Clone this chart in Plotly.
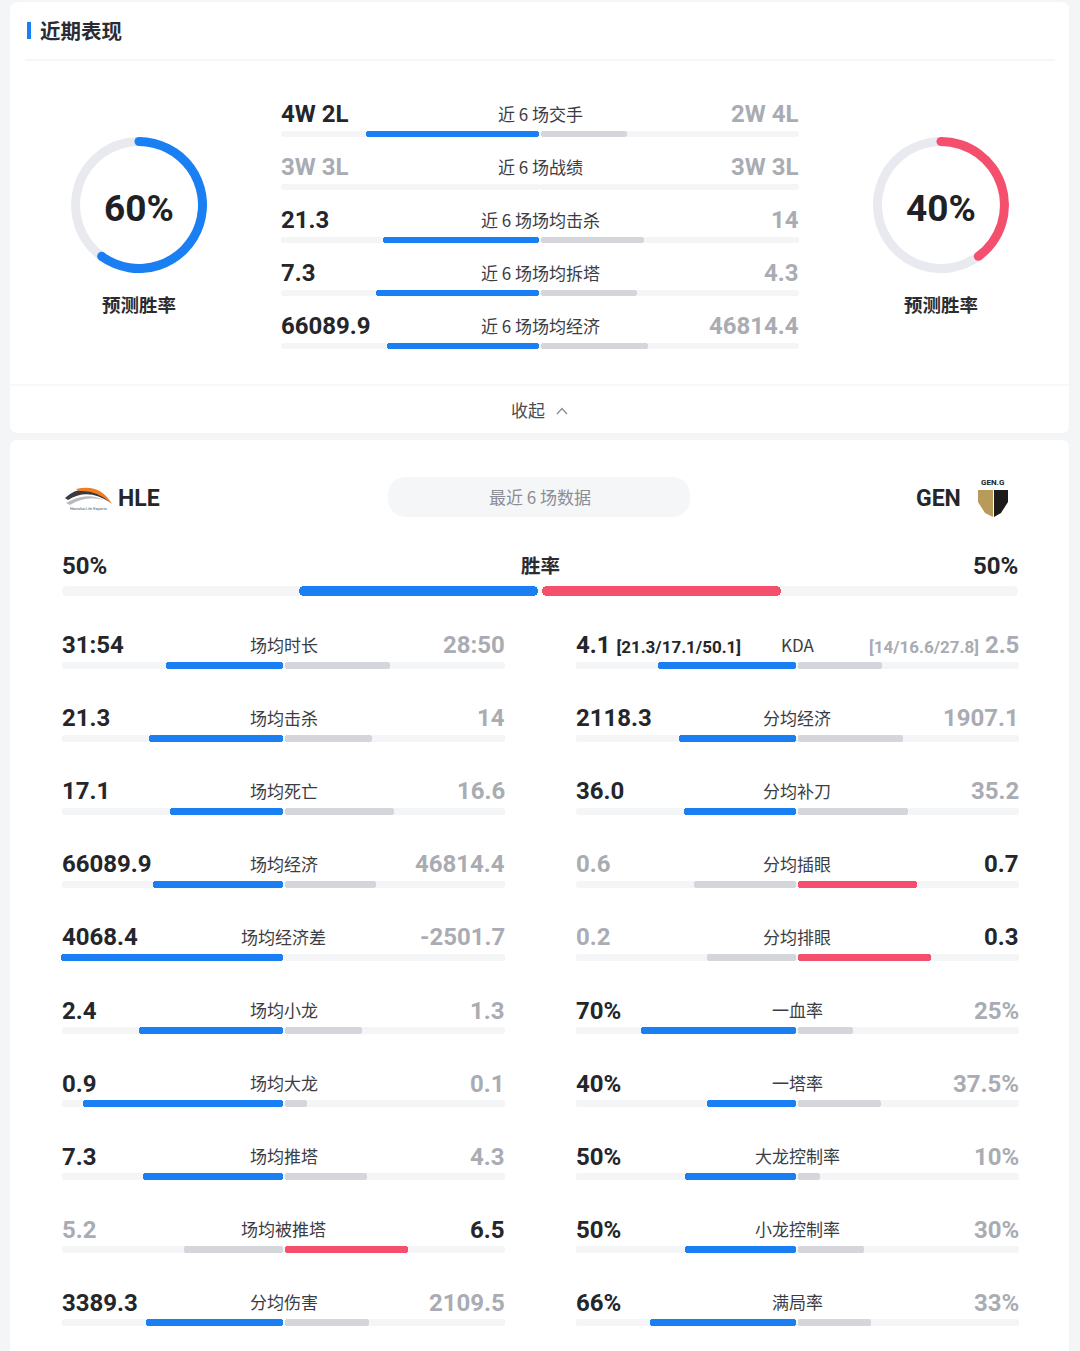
import math
import plotly.graph_objects as go

W, H = 1080, 1351

# ---------- data ----------
pred_label = "预测胜率"
pred_win = [60, 40]          # HLE, GEN predicted win %

top_labels = ["近 6 场交手", "近 6 场战绩", "近 6 场场均击杀", "近 6 场场均拆塔", "近 6 场场均经济"]
top_hle = ["4W 2L", "3W 3L", "21.3", "7.3", "66089.9"]
top_gen = ["2W 4L", "3W 3L", "14", "4.3", "46814.4"]
top_hle_val = [4, None, 21.3, 7.3, 66089.9]
top_gen_val = [2, None, 14, 4.3, 46814.4]

teams = ["HLE", "GEN"]
recent_tag = "最近 6 场数据"
win_label = "胜率"
win_rate = ["50%", "50%"]

left_labels = ["场均时长", "场均击杀", "场均死亡", "场均经济", "场均经济差",
               "场均小龙", "场均大龙", "场均推塔", "场均被推塔", "分均伤害"]
left_hle = ["31:54", "21.3", "17.1", "66089.9", "4068.4", "2.4", "0.9", "7.3", "5.2", "3389.3"]
left_gen = ["28:50", "14", "16.6", "46814.4", "-2501.7", "1.3", "0.1", "4.3", "6.5", "2109.5"]

right_labels = ["KDA", "分均经济", "分均补刀", "分均插眼", "分均排眼",
                "一血率", "一塔率", "大龙控制率", "小龙控制率", "满局率"]
right_hle = ["4.1", "2118.3", "36.0", "0.6", "0.2", "70%", "40%", "50%", "50%", "66%"]
right_gen = ["2.5", "1907.1", "35.2", "0.7", "0.3", "25%", "37.5%", "10%", "30%", "33%"]
kda_hle = "[21.3/17.1/50.1]"
kda_gen = "[14/16.6/27.8]"

# ---------- style ----------
BLUE = "#1a7ff2"
RED = "#f4506e"
GREY_BAR = "#d5d6db"
TRACK = "#f4f5f7"
RING = "#e9eaef"
DARK = "#24262b"
LIGHT = "#a9acb3"
LABEL = "#3b3d43"
BG = "#f4f5f7"
NUMF = "Roboto, Inter, sans-serif"
CJK = "Noto Sans CJK SC, Noto Sans, sans-serif"


def num(s):
    s = s.strip().rstrip("%")
    if ":" in s:
        m, sec = s.split(":")
        return int(m) * 60 + int(sec)
    return float(s)


def shares(a, b, pct=False):
    if a is None or b is None:
        return 0, 0
    if pct:
        return a / 100, b / 100
    a, b = max(a, 0), max(b, 0)
    t = a + b
    return (a / t, b / t) if t else (0, 0)


fig = go.Figure()
annos = []
shapes = []
segs = {}


def add_seg(color, thick, y, base, length):
    d = segs.setdefault((color, thick), {"y": [], "base": [], "x": []})
    d["y"].append(y)
    d["base"].append(base)
    d["x"].append(length)


def txt(x, y, s, size, color, anchor="center", font=CJK):
    # annotations carry a couple of px of padding, pull edge-anchored text back out
    shift = {"left": -2, "right": 2}.get(anchor, 0)
    annos.append(dict(x=x, y=y, text=s, showarrow=False, xanchor=anchor, yanchor="middle",
                      xshift=shift, font=dict(family=font, size=size, color=color)))


def compare(cx, half, y, thick, ltxt, rtxt, lv, rv, label, pct=False, size=24, gap=20):
    ls, rs = shares(lv, rv, pct)
    lwin = lv is not None and rv is not None and lv > rv
    rwin = lv is not None and rv is not None and rv > lv
    # track
    add_seg(TRACK, thick, y + gap, cx, -half)
    add_seg(TRACK, thick, y + gap, cx, half)
    if ls > 0:
        add_seg(BLUE if lwin else GREY_BAR, thick, y + gap, cx - 1, -ls * half)
    if rs > 0:
        add_seg(RED if rwin else GREY_BAR, thick, y + gap, cx + 1, rs * half)
    txt(cx - half, y, "<b>%s</b>" % ltxt, size, DARK if lwin else LIGHT, "left", NUMF)
    txt(cx + half, y, "<b>%s</b>" % rtxt, size, DARK if rwin else LIGHT, "right", NUMF)
    txt(cx, y - 1, label, 17, LABEL)


# ---------- panels ----------
def rrect(x0, y0, x1, y1, r):
    return ("M %f %f L %f %f Q %f %f %f %f L %f %f Q %f %f %f %f L %f %f Q %f %f %f %f "
            "L %f %f Q %f %f %f %f Z" % (x0 + r, y0, x1 - r, y0, x1, y0, x1, y0 + r,
                                          x1, y1 - r, x1, y1, x1 - r, y1, x0 + r, y1,
                                          x0, y1, x0, y1 - r, x0, y0 + r, x0, y0, x0 + r, y0))


shapes.append(dict(type="path", path=rrect(10, 2, 1069, 433, 8), fillcolor="white",
                   line=dict(width=0), layer="below", xref="x", yref="y"))
shapes.append(dict(type="path", path=rrect(10, 440, 1069, 1380, 8), fillcolor="white",
                   line=dict(width=0), layer="below", xref="x", yref="y"))
shapes.append(dict(type="line", x0=25, x1=1055, y0=60, y1=60, line=dict(color="#eeeff2", width=1),
                   layer="below", xref="x", yref="y"))
shapes.append(dict(type="line", x0=10, x1=1069, y0=385, y1=385, line=dict(color="#f0f1f3", width=1),
                   layer="below", xref="x", yref="y"))
shapes.append(dict(type="rect", x0=27, x1=31, y0=22, y1=39, fillcolor=BLUE, line=dict(width=0),
                   layer="below", xref="x", yref="y"))
txt(40, 30, "<b>近期表现</b>", 20.5, "#2a2c31", "left")

# ---------- donuts ----------
R, THK, CY = 68, 9, 205
for cx, pct, col in [(139, pred_win[0], BLUE), (941, pred_win[1], RED)]:
    fig.add_trace(go.Pie(values=[pct, 100 - pct], marker=dict(colors=[col, RING]),
                         hole=(R - THK) / R, sort=False, direction="clockwise", rotation=0,
                         textinfo="none", hoverinfo="skip", showlegend=False,
                         domain=dict(x=[(cx - R) / W, (cx + R) / W],
                                     y=[1 - (CY + R) / H, 1 - (CY - R) / H])))
    rm = R - THK / 2
    for ang in [0, pct / 100 * 2 * math.pi]:
        px, py = cx + rm * math.sin(ang), CY - rm * math.cos(ang)
        shapes.append(dict(type="circle", xref="x", yref="y", x0=px - THK / 2, x1=px + THK / 2,
                           y0=py - THK / 2, y1=py + THK / 2, fillcolor=col, line=dict(width=0),
                           layer="above"))
    txt(cx, CY + 3, "<b>%d%%</b>" % pct, 37, "#1f2125", "center", NUMF)
    txt(cx, 304, "<b>%s</b>" % pred_label, 18.5, "#2a2c31")

# ---------- top comparison ----------
for i, lab in enumerate(top_labels):
    compare(540, 259, 114 + 53 * i, 6, top_hle[i], top_gen[i],
            top_hle_val[i], top_gen_val[i], lab)

txt(528, 409, "收起", 17, "#4a4c52")
shapes.append(dict(type="path", path="M 557 414 L 562 408.5 L 567 414", xref="x", yref="y",
                   line=dict(color="#8a8d94", width=1.3), layer="above"))

# ---------- team header ----------
shapes.append(dict(type="path", path=rrect(388, 477, 690, 517, 20), fillcolor="#f5f6f8",
                   line=dict(width=0), layer="below", xref="x", yref="y"))
txt(540, 496, recent_tag, 17, "#8a8d94")
# HLE logo (rough)
shapes.append(dict(type="path", path="M 65 498 Q 86 479 111 503 Q 88 487 68 500 Z",
                   fillcolor="#3a3a3c", line=dict(width=0), xref="x", yref="y"))
shapes.append(dict(type="path", path="M 76 489 Q 100 483 112 504 Q 98 490 79 491 Z",
                   fillcolor="#ef7d22", line=dict(width=0), xref="x", yref="y"))
shapes.append(dict(type="path", path="M 66 503 Q 86 491 104 500 Q 86 495 70 505 Z",
                   fillcolor="#b8b9bc", line=dict(width=0), xref="x", yref="y"))
txt(88, 508, "Hanwha Life Esports", 4, "#555", "center", NUMF)
txt(118, 498, "<b>%s</b>" % teams[0], 23, "#24262b", "left", NUMF)
# GEN logo (rough)
shapes.append(dict(type="path", path="M 978 490 L 993 490 L 993 517 L 985 513 L 978 502 Z",
                   fillcolor="#b89a5a", line=dict(width=0), xref="x", yref="y"))
shapes.append(dict(type="path", path="M 994 490 L 1008 490 L 1008 502 L 1001 513 L 994 517 Z",
                   fillcolor="#1c1c1c", line=dict(width=0), xref="x", yref="y"))
txt(993, 482, "<b>GEN.G</b>", 8, "#222", "center", NUMF)
txt(961, 498, "<b>%s</b>" % teams[1], 23, "#24262b", "right", NUMF)

# ---------- win rate ----------
wl, wr = num(win_rate[0]), num(win_rate[1])
add_seg(TRACK, 10, 591, 540, -478)
add_seg(TRACK, 10, 591, 540, 478)
add_seg(BLUE, 10, 591, 538, -wl / 100 * 478)
add_seg(RED, 10, 591, 542, wr / 100 * 478)
txt(62, 566, "<b>%s</b>" % win_rate[0], 24, DARK, "left", NUMF)
txt(1018, 566, "<b>%s</b>" % win_rate[1], 24, DARK, "right", NUMF)
txt(540, 564, "<b>%s</b>" % win_label, 19.5, "#2a2c31")

# ---------- detail columns ----------
for i in range(10):
    y = 645 + 73.1 * i
    compare(283.5, 221.5, y, 7, left_hle[i], left_gen[i],
            num(left_hle[i]), num(left_gen[i]), left_labels[i])
    pct = right_hle[i].endswith("%")
    if right_labels[i] == "KDA":
        compare(797, 221.5, y, 7,
                "%s <span style='font-size:17px'>%s</span>" % (right_hle[i], kda_hle),
                "<span style='font-size:17px'>%s</span> %s" % (kda_gen, right_gen[i]),
                num(right_hle[i]), num(right_gen[i]), right_labels[i], pct)
    else:
        compare(797, 221.5, y, 7, right_hle[i], right_gen[i],
                num(right_hle[i]), num(right_gen[i]), right_labels[i], pct)

# ---------- bars ----------
for (color, thick), d in segs.items():
    fig.add_trace(go.Bar(orientation="h", y=d["y"], x=d["x"], base=d["base"],
                         width=[thick] * len(d["y"]),
                         marker=dict(color=color, line=dict(width=0), cornerradius=thick / 2),
                         hoverinfo="skip", showlegend=False))

fig.update_layout(
    width=W, height=H, autosize=False,
    margin=dict(l=0, r=0, t=0, b=0),
    paper_bgcolor=BG, plot_bgcolor=BG,
    barmode="overlay", bargap=0,
    xaxis=dict(range=[0, W], visible=False, fixedrange=True),
    yaxis=dict(range=[H, 0], visible=False, fixedrange=True),
    annotations=annos, shapes=shapes,
)

fig.write_html("out.html", config={"displayModeBar": False},
               post_script="document.body.style.margin='0';document.body.style.overflow='hidden';"
                           "document.body.style.background='%s';" % BG)
